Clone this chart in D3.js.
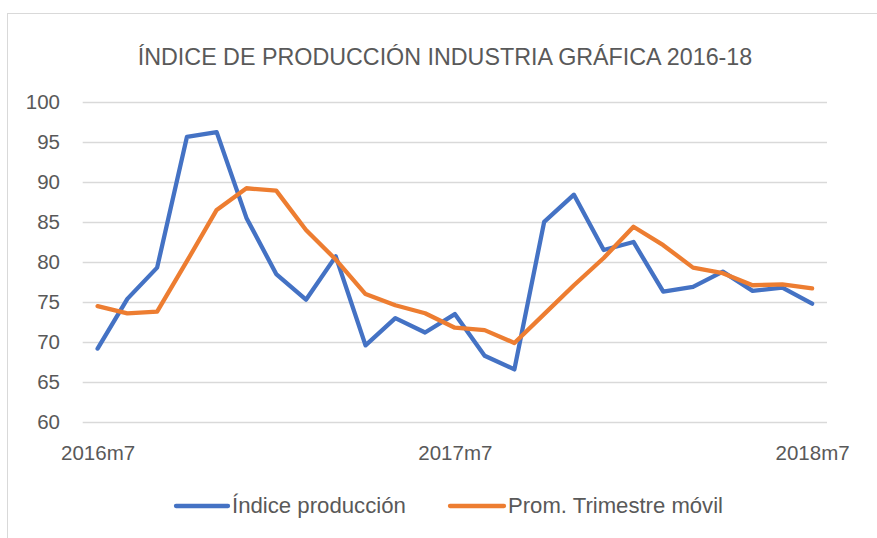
<!DOCTYPE html>
<html>
<head>
<meta charset="utf-8">
<script src="https://cdn.jsdelivr.net/npm/d3@7"></script>
<style>
  body { margin: 0; background: #fff; }
  text { font-family: "Liberation Sans", Arial, sans-serif; fill: #595959; }
</style>
</head>
<body>
<div id="chart"></div>
<script>
// datos
var months = ["2016m7","2016m8","2016m9","2016m10","2016m11","2016m12",
  "2017m1","2017m2","2017m3","2017m4","2017m5","2017m6",
  "2017m7","2017m8","2017m9","2017m10","2017m11","2017m12",
  "2018m1","2018m2","2018m3","2018m4","2018m5","2018m6","2018m7"];
var tickLabels = ["2016m7", "2017m7", "2018m7"];
var indice = [69.2, 75.4, 79.3, 95.6, 96.2, 85.5, 78.5, 75.3, 80.7, 69.6, 73.0, 71.2,
  73.5, 68.3, 66.6, 85.0, 88.4, 81.5, 82.5, 76.3, 76.9, 78.8, 76.4, 76.8, 74.8];
var promedio = [74.5, 73.6, 73.8, 80.1, 86.5, 89.2, 88.9, 84.0, 80.3, 76.0, 74.6, 73.6,
  71.8, 71.5, 69.9, 73.5, 77.1, 80.5, 84.4, 82.1, 79.3, 78.6, 77.1, 77.2, 76.7];
var yTicks = [60, 65, 70, 75, 80, 85, 90, 95, 100];
var seriesNames = ["Índice producción", "Prom. Trimestre móvil"];
var colors = ["#4472C4", "#ED7D31"];

var svgWidth = 877;
var svgHeight = 538;

var svg = d3.select("#chart")
  .append("svg")
  .attr("width", svgWidth)
  .attr("height", svgHeight);

// marco
svg.append("rect")
  .attr("x", 7.5)
  .attr("y", 13.5)
  .attr("width", 900)
  .attr("height", 600)
  .attr("fill", "none")
  .attr("stroke", "#D9D9D9");

// ajusta el tamaño de letra para que el texto ocupe un ancho dado
function fitText(sel, width, base) {
  sel.attr("font-size", base);
  var w = sel.node().getComputedTextLength();
  sel.attr("font-size", base * width / w);
  return sel;
}

fitText(svg.append("text")
  .attr("x", 445)
  .attr("y", 65)
  .attr("text-anchor", "middle")
  .text("ÍNDICE DE PRODUCCIÓN INDUSTRIA GRÁFICA 2016-18"), 615, 22);

var x = d3.scalePoint()
  .domain(months)
  .range([82.7, 827])
  .padding(0.5);

var y = d3.scaleLinear()
  .domain([60, 100])
  .range([422.3, 101.7]);

// cuadricula
svg.append("g")
  .selectAll("line")
  .data(yTicks)
  .enter()
  .append("line")
  .attr("x1", 82.7)
  .attr("x2", 827)
  .attr("y1", d => Math.round(y(d)) + 0.5)
  .attr("y2", d => Math.round(y(d)) + 0.5)
  .attr("stroke", "#D9D9D9")
  .attr("stroke-width", 1.3);

// eje y
var yAxis = d3.axisLeft(y).tickValues(yTicks).tickSize(0).tickPadding(0);
var yg = svg.append("g")
  .attr("transform", "translate(60,0)")
  .call(yAxis);
yg.select(".domain").remove();
yg.selectAll("text")
  .attr("font-size", 20.5)
  .attr("font-family", "Liberation Sans, Arial, sans-serif")
  .attr("fill", "#595959");

// eje x
var xAxis = d3.axisBottom(x).tickValues(tickLabels).tickSize(0).tickPadding(0);
var xg = svg.append("g")
  .attr("transform", "translate(0,445)")
  .call(xAxis);
xg.select(".domain").remove();
xg.selectAll("text")
  .attr("font-size", 20.5)
  .attr("font-family", "Liberation Sans, Arial, sans-serif")
  .attr("fill", "#595959");

// lineas
var line = d3.line()
  .x((d, i) => x(months[i]))
  .y(d => y(d));

[indice, promedio].forEach(function (serie, k) {
  svg.append("path")
    .datum(serie)
    .attr("d", line)
    .attr("fill", "none")
    .attr("stroke", colors[k])
    .attr("stroke-width", 4.3)
    .attr("stroke-linejoin", "round")
    .attr("stroke-linecap", "round");
});

// leyenda
var legendItems = [
  { x1: 176, x2: 228, tx: 232, tw: 174 },
  { x1: 450, x2: 504, tx: 508, tw: 215 }
];
legendItems.forEach(function (it, k) {
  svg.append("line")
    .attr("x1", it.x1)
    .attr("x2", it.x2)
    .attr("y1", 506)
    .attr("y2", 506)
    .attr("stroke", colors[k])
    .attr("stroke-width", 4.3)
    .attr("stroke-linecap", "round");
  fitText(svg.append("text")
    .attr("x", it.tx)
    .attr("y", 513)
    .text(seriesNames[k]), it.tw, 19);
});
</script>
</body>
</html>
